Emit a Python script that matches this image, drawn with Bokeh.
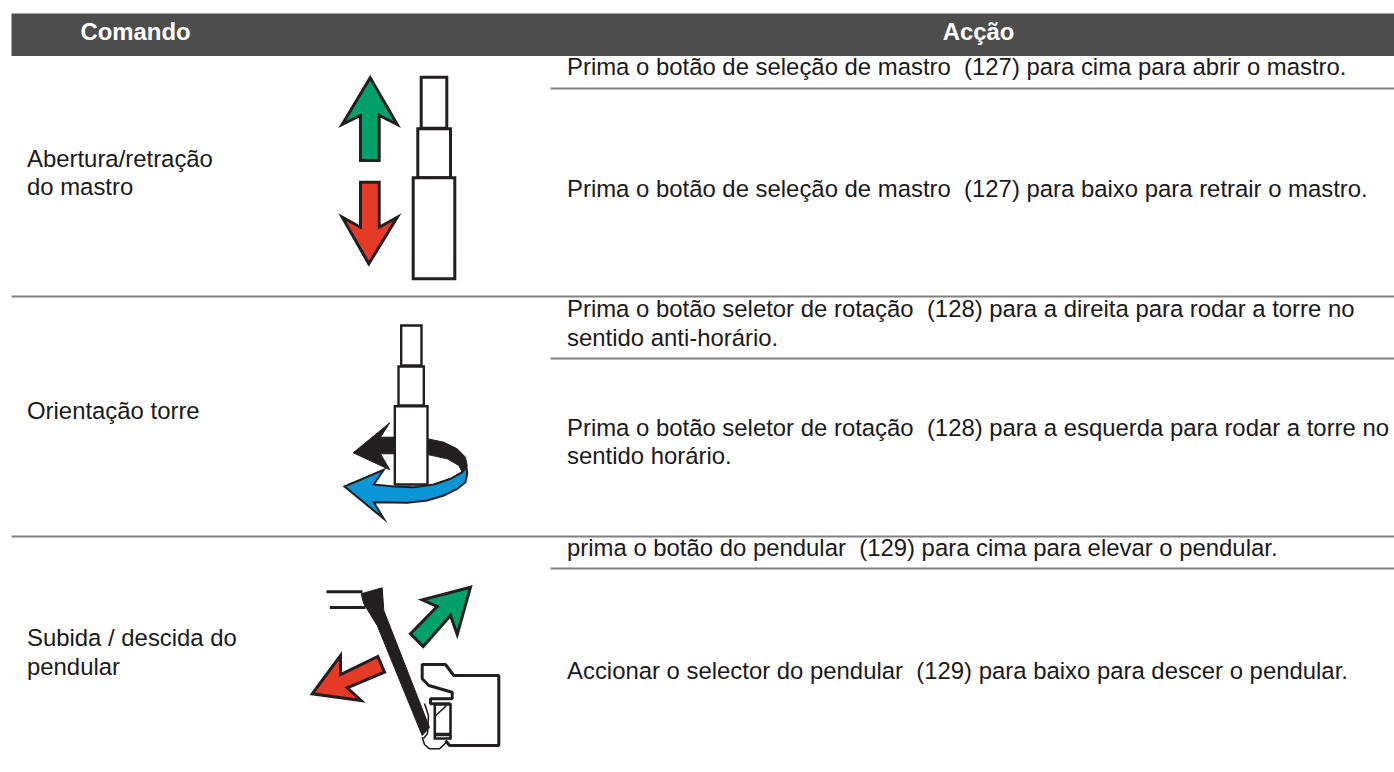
from bokeh.plotting import figure
from bokeh.embed import file_html
from bokeh.resources import INLINE
from bokeh.core.properties import value

FONT = "Liberation Sans"
header_labels = ["Comando", "Acção"]
command_labels = [
    ["Abertura/retração", "do mastro"],
    ["Orientação torre"],
    ["Subida / descida do", "pendular"],
]
action_labels = [
    "Prima o botão de seleção de mastro\u00a0 (127) para cima para abrir o mastro.",
    "Prima o botão de seleção de mastro\u00a0 (127) para baixo para retrair o mastro.",
    "Prima o botão seletor de rotação\u00a0 (128) para a direita para rodar a torre no",
    "sentido anti-horário.",
    "Prima o botão seletor de rotação\u00a0 (128) para a esquerda para rodar a torre no",
    "sentido horário.",
    "prima o botão do pendular\u00a0 (129) para cima para elevar o pendular.",
    "Accionar o selector do pendular\u00a0 (129) para baixo para descer o pendular.",
]
action_rows = [66, 188, 308, 337, 427, 455, 547, 670]
command_rows = [[158, 186], [410], [637, 666]]
rule_rows = [88, 296, 358, 536, 568]
rule_starts = [550, 11, 550, 11, 550]

p = figure(width=1394, height=772, x_range=(0, 1394), y_range=(772, 0),
           toolbar_location=None, output_backend="svg", min_border=0,
           x_axis_location=None, y_axis_location=None, outline_line_color=None)
p.grid.visible = False

# header and rules
p.quad(left=[11], right=[1394], top=[13], bottom=[55.5], fill_color="#4d4d4d", line_color=None)
p.segment(x0=rule_starts, x1=[1394] * 5, y0=rule_rows, y1=rule_rows, line_color="#808080", line_width=2)

def txt(x, y, s, align="left", style="normal", color="#1a1a1a"):
    p.text(x=[x], y=[y], text=[s], text_font=value(FONT), text_font_size="23.9px", text_align=align,
           text_baseline="alphabetic", text_font_style=style, text_color=color)

txt(135, 31, header_labels[0], "center", "bold", "white")
txt(978, 31, header_labels[1], "center", "bold", "white")
for lines, ys in zip(command_labels, command_rows):
    for s, y in zip(lines, ys):
        txt(26.5, y, s)
for s, y in zip(action_labels, action_rows):
    txt(566.5, y, s)

K = "#231f20"
GREEN = "#00a06a"
RED = "#e43a26"
BLUE = "#0a96d6"

def poly(pts, fill, lw=3):
    p.patch(x=[a for a, b in pts], y=[b for a, b in pts], fill_color=fill, line_color=K,
            line_width=lw, line_join="miter")

def line(pts, lw=3):
    p.line(x=[a for a, b in pts], y=[b for a, b in pts], line_color=K, line_width=lw)

# icon 1
poly([(369.7, 77.3), (396.7, 124), (378.7, 115), (378.7, 160), (360, 160), (360, 115), (341.7, 124)], GREEN)
poly([(360, 181.7), (378.7, 181.7), (378.7, 226.7), (396.7, 216.7), (368.3, 263.3), (341.7, 216.7), (360, 226.7)], RED)
poly([(420.7, 76.7), (446.3, 76.7), (446.3, 127.7), (420.7, 127.7)], "white")
poly([(417.3, 128.3), (450, 128.3), (450, 177.3), (417.3, 177.3)], "white")
poly([(412.7, 177.3), (454.3, 177.3), (454.3, 278.3), (412.7, 278.3)], "white")

# icon 2
poly([(427, 438.3), (443.3, 441.7), (456.7, 448.3), (465, 456.7), (466.7, 465), (461.7, 471.7), (458.3, 465),
      (446.7, 458.3), (427, 454)], K, 1)
poly([(344, 486), (383.3, 469.3), (373.3, 484), (393.3, 486), (413.3, 486.7), (433.3, 484), (450, 478.3),
      (461.7, 471.7), (466, 466.7), (466.7, 473.3), (465, 481.7), (456.7, 488.3), (443.3, 495), (426.7, 500),
      (406.7, 502.3), (373.3, 501.7), (383.3, 518.3)], BLUE, 2)
poly([(352.7, 452.3), (389.3, 422.3), (380, 436.7), (396, 436.7), (396, 453.3), (380, 453.3), (389.3, 469.3)], K, 1)
poly([(394.3, 405.7), (427, 405.7), (427, 484), (394.3, 484)], "white", 2.4)
poly([(398, 366), (423.3, 366), (423.3, 405), (398, 405)], "white", 2.4)
poly([(400.7, 325), (421, 325), (421, 365), (400.7, 365)], "white", 2.4)

# icon 3
line([(326, 591.3), (362, 591.3)])
line([(329.3, 607), (365, 607)])
poly([(360.7, 593.3), (381.7, 587.3), (383.3, 610), (429, 727), (421.7, 735), (376.7, 625), (363.3, 603.3)], K, 1)
poly([(470, 586.7), (421.7, 599.3), (436.7, 606), (410, 633.3), (422.7, 646), (450, 615), (456.7, 634)], GREEN)
poly([(311.7, 693.3), (340, 655), (340, 674), (377.3, 656), (384, 671.7), (346.7, 687.3), (360.7, 700)], RED)
line([(445, 740), (449, 745), (498.3, 745), (498.3, 675), (453.3, 675), (445, 664), (421.7, 664), (421.7, 678.3),
      (428.3, 685), (451.7, 691.7), (451.7, 698.3), (430, 698.3), (430, 703.3), (450, 703.3)])
poly([(434.3, 704), (450, 704), (450, 738), (434.3, 738)], "white", 2.6)
line([(434.3, 716), (446, 705)], 1.6)
line([(434.3, 734), (450, 734)], 3.5)
line([(421.7, 736.7), (424, 744), (429, 748.3), (439, 748.3), (446.7, 741)], 1.6)
line([(424, 703), (428, 715), (427, 733), (423, 738)], 1.6)

open("out.html", "w").write(file_html(p, INLINE))
